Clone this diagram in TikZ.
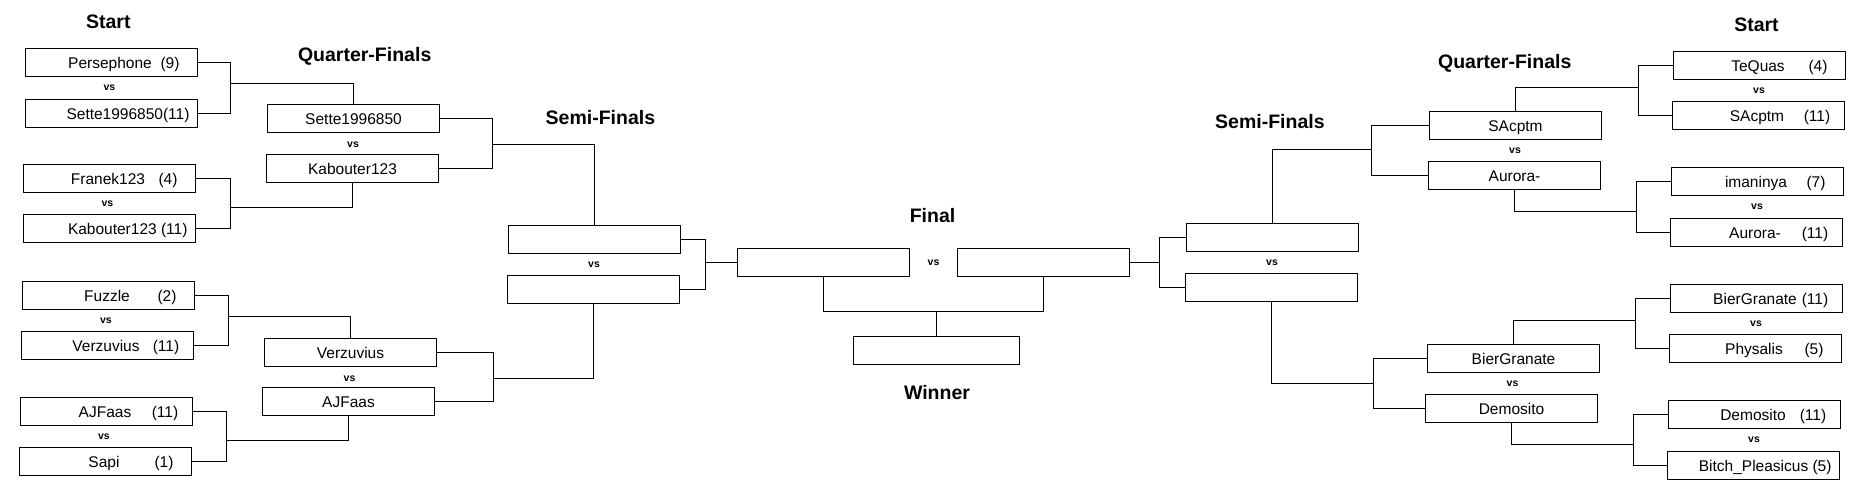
\documentclass[tikz,border=0pt]{standalone}
\usepackage{fontspec}
\setmainfont{Liberation Sans}
\usetikzlibrary{calc}
\newcommand\ns[2]{\hspace*{27pt}\makebox[90pt][c]{#1}\makebox[30pt][c]{#2}}
\newcommand\rn[1]{\makebox[156pt][r]{#1}}
\tikzset{
  box/.style={draw=black, line width=1pt, minimum width=172pt, minimum height=28pt,
    inner sep=0pt, font=\fontsize{15.5}{18}\selectfont, text height=12pt, text depth=0pt},
  winbox/.style={box, minimum width=166pt},
  vslab/.style={font=\bfseries\fontsize{10.5}{12}\selectfont, inner sep=0pt},
  stage/.style={font=\bfseries\fontsize{19.5}{22}\selectfont, inner sep=0pt,
    text height=14pt, text depth=0pt},
  link/.style={line width=1pt, draw=black},
}
\begin{document}
\begin{tikzpicture}[x=1pt,y=-1pt]
\fill[white] (0,0) rectangle (1873,487);
\useasboundingbox (0,0) rectangle (1873,487);

% stage labels
\node[stage] (startL) at (108.3,22) {Start};
\node[stage] (qfL) at (364.7,54.5) {Quarter-Finals};
\node[stage] (sfL) at (600.4,117) {Semi-Finals};
\node[stage] (fin) at (932.5,215.5) {Final};
\node[stage] (win) at (937,392) {Winner};
\node[stage] (startR) at (1756.5,25) {Start};
\node[stage] (qfR) at (1504.7,61.7) {Quarter-Finals};
\node[stage] (sfR) at (1269.9,121.7) {Semi-Finals};

% left first round
\node[box] (L1) at (111.5,62.5) {\ns{Persephone}{(9)}};
\node[box] (L2) at (111.5,113.5) {\rn{Sette1996850(11)}};
\node[box] (L3) at (109.5,178.5) {\ns{Franek123}{(4)}};
\node[box] (L4) at (109.5,228.5) {\rn{Kabouter123 (11)}};
\node[box] (L5) at (108.5,295.5) {\ns{Fuzzle}{(2)}};
\node[box] (L6) at (107.5,345.5) {\ns{Verzuvius}{(11)}};
\node[box] (L7) at (106.5,411.5) {\ns{AJFaas}{(11)}};
\node[box] (L8) at (105.5,461.5) {\ns{Sapi}{(1)}};

% left quarter-finals
\node[box] (QL1) at (353.5,118.5) {Sette1996850};
\node[box] (QL2) at (352.5,168.5) {Kabouter123};
\node[box] (QL3) at (350.5,352.5) {Verzuvius};
\node[box] (QL4) at (348.5,401.5) {AJFaas};

% left semi-finals
\node[box] (SL1) at (594.5,239.5) {};
\node[box] (SL2) at (593.5,289.5) {};

% final and winner
\node[box] (FL) at (823.5,262.5) {};
\node[box] (FR) at (1043.5,262.5) {};
\node[winbox] (W) at (936.5,350.5) {};

% right semi-finals
\node[box] (SR1) at (1272.5,237.5) {};
\node[box] (SR2) at (1271.5,287.5) {};

% right quarter-finals
\node[box] (QR1) at (1515.5,125.5) {SAcptm};
\node[box] (QR2) at (1514.5,175.5) {Aurora-};
\node[box] (QR3) at (1513.5,358.5) {BierGranate};
\node[box] (QR4) at (1511.5,408.5) {Demosito};

% right first round
\node[box] (R1) at (1759.5,65.5) {\ns{TeQuas}{(4)}};
\node[box] (R2) at (1758.5,115.5) {\ns{SAcptm}{(11)}};
\node[box] (R3) at (1757.5,181.5) {\ns{imaninya}{(7)}};
\node[box] (R4) at (1756.5,232.5) {\ns{Aurora-}{(11)}};
\node[box] (R5) at (1756.5,298.5) {\ns{BierGranate}{(11)}};
\node[box] (R6) at (1755.5,348.5) {\ns{Physalis}{(5)}};
\node[box] (R7) at (1754.5,414.5) {\ns{Demosito}{(11)}};
\node[box] (R8) at (1753.5,465.5) {\rn{Bitch\_Pleasicus (5)}};

% vs labels
\node[vslab] (vL12) at ($(L1)!0.5!(L2)+(-2,0)$) {vs};
\node[vslab] (vL34) at ($(L3)!0.5!(L4)+(-2,0)$) {vs};
\node[vslab] (vL56) at ($(L5)!0.5!(L6)+(-2,0)$) {vs};
\node[vslab] (vL78) at ($(L7)!0.5!(L8)+(-2,0)$) {vs};
\node[vslab] (vQL12) at ($(QL1)!0.5!(QL2)+(0,1.5)$) {vs};
\node[vslab] (vQL34) at ($(QL3)!0.5!(QL4)+(0,1.5)$) {vs};
\node[vslab] (vSL) at ($(SL1)!0.5!(SL2)$) {vs};
\node[vslab] (vF) at ($(FL.east)!0.5!(FR.west)$) {vs};
\node[vslab] (vSR) at ($(SR1)!0.5!(SR2)$) {vs};
\node[vslab] (vQR12) at ($(QR1)!0.5!(QR2)$) {vs};
\node[vslab] (vQR34) at ($(QR3)!0.5!(QR4)$) {vs};
\node[vslab] (vR12) at ($(R1)!0.5!(R2)$) {vs};
\node[vslab] (vR34) at ($(R3)!0.5!(R4)$) {vs};
\node[vslab] (vR56) at ($(R5)!0.5!(R6)$) {vs};
\node[vslab] (vR78) at ($(R7)!0.5!(R8)$) {vs};

% junction coordinates
\coordinate (a1) at (230.5,83.5);
\coordinate (a2) at (230.5,207.5);
\coordinate (a3) at (228.5,316.5);
\coordinate (a4) at (226.5,440.5);
\coordinate (b1) at (492.5,144.5);
\coordinate (b2) at (493.5,378.5);
\coordinate (c1) at (705.5,262.5);
\coordinate (wj) at (936.5,311.5);
\coordinate (c2) at (1159.5,262.5);
\coordinate (d1) at (1371.5,149.5);
\coordinate (d2) at (1373.5,383.5);
\coordinate (e1) at (1638.5,87.5);
\coordinate (e2) at (1636.5,211.5);
\coordinate (e3) at (1635.5,320.5);
\coordinate (e4) at (1633.5,444.5);

% left connectors
\draw[link] (L1.east) -| (a1) |- (L2.east);
\draw[link] (a1) -| (QL1.north);
\draw[link] (L3.east) -| (a2) |- (L4.east);
\draw[link] (a2) -| (QL2.south);
\draw[link] (L5.east) -| (a3) |- (L6.east);
\draw[link] (a3) -| (QL3.north);
\draw[link] (L7.east) -| (a4) |- (L8.east);
\draw[link] (a4) -| (QL4.south);
\draw[link] (QL1.east) -| (b1) |- (QL2.east);
\draw[link] (b1) -| (SL1.north);
\draw[link] (QL3.east) -| (b2) |- (QL4.east);
\draw[link] (b2) -| (SL2.south);
\draw[link] (SL1.east) -| (c1) |- (SL2.east);
\draw[link] (c1) -- (FL.west);

% final to winner
\draw[link] (FL.south) |- (wj) -| (FR.south);
\draw[link] (wj) -- (W.north);

% right connectors
\draw[link] (SR1.west) -| (c2) |- (SR2.west);
\draw[link] (c2) -- (FR.east);
\draw[link] (QR1.west) -| (d1) |- (QR2.west);
\draw[link] (d1) -| (SR1.north);
\draw[link] (QR3.west) -| (d2) |- (QR4.west);
\draw[link] (d2) -| (SR2.south);
\draw[link] (R1.west) -| (e1) |- (R2.west);
\draw[link] (e1) -| (QR1.north);
\draw[link] (R3.west) -| (e2) |- (R4.west);
\draw[link] (e2) -| (QR2.south);
\draw[link] (R5.west) -| (e3) |- (R6.west);
\draw[link] (e3) -| (QR3.north);
\draw[link] (R7.west) -| (e4) |- (R8.west);
\draw[link] (e4) -| (QR4.south);
\end{tikzpicture}
\end{document}
